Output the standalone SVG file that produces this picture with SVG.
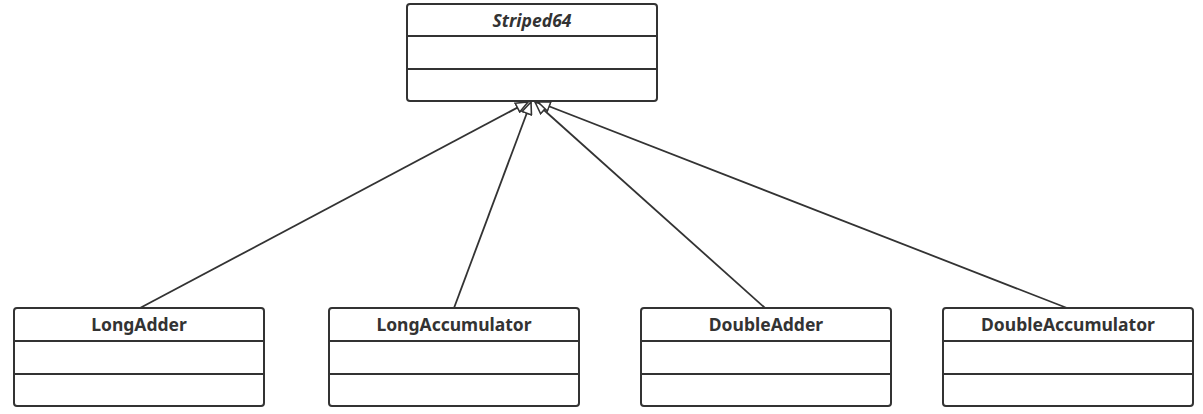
<svg xmlns="http://www.w3.org/2000/svg" width="1203" height="414" viewBox="0 0 1203 414">
<defs>
<style>
.box{fill:#fff;stroke:#333;stroke-width:2}
.div{stroke:#333;stroke-width:2}
.t{font-family:"Noto Sans","Open Sans",sans-serif;font-size:17.5px;font-weight:bold;fill:#333;text-anchor:middle}
.it{font-style:italic}
.edge{stroke:#333;stroke-width:1.8;fill:none;marker-end:url(#tri)}
</style>
<marker id="tri" viewBox="0 0 14 12" refX="13" refY="6" markerWidth="14" markerHeight="12" markerUnits="userSpaceOnUse" orient="auto">
<path d="M1,1 L13,6 L1,11 Z" fill="#fff" stroke="#333" stroke-width="1.6"/>
</marker>
</defs>
<g id="connectors">
<line class="edge" x1="140" y1="308" x2="528" y2="102"/>
<line class="edge" x1="454" y1="308" x2="531" y2="102"/>
<line class="edge" x1="765" y1="308" x2="535" y2="102"/>
<line class="edge" x1="1067" y1="308" x2="538" y2="102"/>
</g>
<g id="Striped64">
<rect class="box" x="407" y="4" width="250" height="97" rx="3"/>
<line class="div" x1="407" y1="36" x2="657" y2="36"/>
<line class="div" x1="407" y1="69" x2="657" y2="69"/>
<text class="t it" x="532" y="27">Striped64</text>
</g>
<g id="LongAdder">
<rect class="box" x="14" y="308" width="250" height="98" rx="3"/>
<line class="div" x1="14" y1="341" x2="264" y2="341"/>
<line class="div" x1="14" y1="374" x2="264" y2="374"/>
<text class="t" x="139" y="331">LongAdder</text>
</g>
<g id="LongAccumulator">
<rect class="box" x="329" y="308" width="250" height="98" rx="3"/>
<line class="div" x1="329" y1="341" x2="579" y2="341"/>
<line class="div" x1="329" y1="374" x2="579" y2="374"/>
<text class="t" x="454" y="331">LongAccumulator</text>
</g>
<g id="DoubleAdder">
<rect class="box" x="641" y="308" width="250" height="98" rx="3"/>
<line class="div" x1="641" y1="341" x2="891" y2="341"/>
<line class="div" x1="641" y1="374" x2="891" y2="374"/>
<text class="t" x="766" y="331">DoubleAdder</text>
</g>
<g id="DoubleAccumulator">
<rect class="box" x="943" y="308" width="250" height="98" rx="3"/>
<line class="div" x1="943" y1="341" x2="1193" y2="341"/>
<line class="div" x1="943" y1="374" x2="1193" y2="374"/>
<text class="t" x="1068" y="331">DoubleAccumulator</text>
</g>
</svg>
